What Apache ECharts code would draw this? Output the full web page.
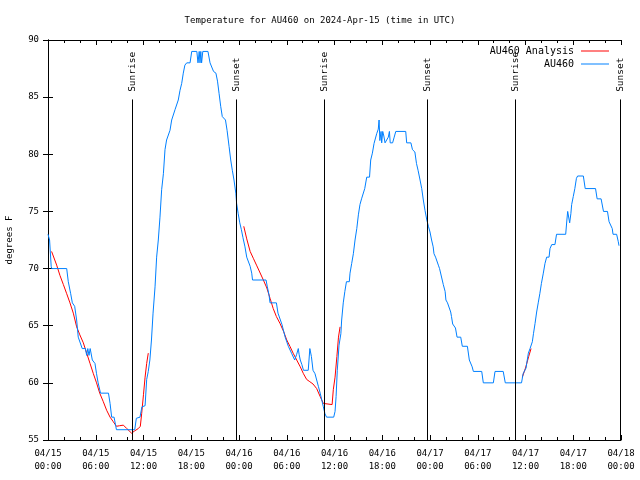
<!DOCTYPE html>
<html><head><meta charset="utf-8">
<script src="https://cdn.jsdelivr.net/npm/echarts@6/dist/echarts.min.js"></script>
<style>html,body{margin:0;padding:0;background:#fff}#c{width:640px;height:480px}</style>
</head><body><div id="c"></div>
<script>
// ---- data (hours since 04/15 00:00 UTC, degrees F) ----
const xTickLabels = ['04/15\n00:00','04/15\n06:00','04/15\n12:00','04/15\n18:00','04/16\n00:00','04/16\n06:00','04/16\n12:00','04/16\n18:00','04/17\n00:00','04/17\n06:00','04/17\n12:00','04/17\n18:00','04/18\n00:00'];
const yTicks = [55,60,65,70,75,80,85,90];

const obsHours = [0,0.2,0.4,0.46,2.35,2.55,2.85,3.06,3.35,3.6,3.8,4.0,4.3,4.7,4.86,5.0,5.15,5.3,5.45,5.57,5.9,6.1,6.3,6.6,7.6,7.8,8.0,8.3,8.6,10.9,11.1,11.56,11.8,12.2,12.4,12.6,12.8,13.0,13.2,13.45,13.65,13.86,14.07,14.28,14.5,14.7,14.9,15.1,15.33,15.54,15.75,15.96,16.15,16.37,16.59,16.8,17.0,17.2,17.43,17.85,18.06,18.7,18.85,19.0,19.1,19.2,19.3,19.45,20.1,20.36,20.8,21.1,21.3,21.5,21.7,21.9,22.3,22.5,22.75,22.96,23.16,23.37,23.6,23.7,23.9,24.1,24.3,24.5,24.75,24.97,25.2,25.4,25.6,25.7,27.4,27.56,27.77,27.9,28.7,28.9,29.1,29.4,29.6,29.8,30.0,30.2,30.4,30.6,30.8,31.0,31.25,31.45,31.55,31.7,31.9,32.1,32.7,32.9,33.1,33.3,33.55,33.76,33.97,34.2,34.4,34.6,34.8,35.0,35.9,36.07,36.2,36.35,36.57,36.8,36.9,37.1,37.3,37.5,37.86,37.95,38.16,38.37,38.58,38.8,39.0,39.2,39.4,39.6,39.8,40.05,40.4,40.55,40.76,40.97,41.2,41.3,41.5,41.6,41.7,41.85,41.93,42.06,42.2,42.35,42.6,42.76,42.9,43.0,43.3,43.5,43.7,44.95,45.07,45.6,45.8,46.1,46.3,46.5,46.75,46.96,47.16,47.37,47.6,47.8,48.0,48.2,48.34,48.4,48.5,48.7,48.9,49.05,49.2,49.4,49.67,49.9,50.0,50.2,50.4,50.6,50.7,50.85,51.0,51.2,51.4,51.86,52.06,52.7,52.8,52.94,53.1,53.3,53.45,54.5,54.7,55.96,56.17,57.2,57.46,59.5,59.7,60.07,60.15,60.36,60.57,60.86,61.0,61.2,61.4,61.6,61.8,62.0,62.24,62.45,62.66,62.96,63.08,63.3,63.7,63.9,65.05,65.2,65.3,65.4,65.55,65.7,65.8,66.0,66.2,66.4,66.55,67.27,67.5,68.8,69.0,69.5,69.8,70.3,70.5,70.9,71.0,71.45,71.66,71.75];
const obsTemps = [73,72.5,70.2,70,70,68.85,67.8,67,66.7,65.5,64,63.9,63,63,62.4,63,62.4,63,63,62,61.7,60.8,60,59.1,59.1,58.2,57,57,55.9,55.9,56.9,57,57.9,58,60.3,61,62,63.75,66.1,68.4,71,72.5,74.5,76.9,78.3,80.4,81.25,81.3,82.1,83,83.1,83.9,84,84.75,85.6,86.2,87.1,87.8,88,88,89,89,88,89,88,89,88,89,89,88,87.25,87.1,86.4,85.3,84.2,83.3,83,82.1,80.7,79.5,78.6,77.75,76.6,75.7,74.8,74,73.4,72.7,71.9,71,70.9,70.2,69.6,69,69,68.4,67.7,67,67,66.1,66,65.1,65,64,63.9,63.2,63.1,62.6,62.5,62,62.5,63,62.5,62,61.6,61.1,61.1,63,62.3,61.1,60.8,60.25,59.7,59.1,58.5,57.9,57.3,57,57,57.5,58.8,61.1,63.3,64.3,65.5,67,68,68.85,68.85,69.6,70.45,71.3,72.5,73.5,74.7,75.6,76.1,76.1,77,78,78,79.5,80.1,80.95,81,81.8,82.2,83,81.2,82,81,82,81.6,81,81,81.5,82,81,81,81.5,82,82,81,81,80.4,80.2,79.2,78.6,77.75,77,76,75.1,74.25,73.7,73.2,72.5,72.35,71.9,71.3,71,71,70.3,70,69.9,68.6,68,67.25,67,67,66.2,65.8,65.15,65.1,64.8,64,64,63.2,63.2,62.7,62,62,61.4,61,61,60,60,61,61,60,60,60.8,61.3,61.7,62.6,63,63.6,64.3,65.2,66.2,67,67.8,68.7,69.6,70.45,71,71,71.75,72.1,72.1,73,73,74.25,75,74.6,74,74.8,75.6,76.3,77,77.9,78.1,78.1,77,77,76.1,76.1,75,75,74.1,73.5,73,73,72.35,72];

const anaHours1 = [0.45,1.09,1.5,1.93,2.35,2.76,3.18,3.6,4.0,4.44,4.86,5.28,5.7,6.1,6.5,6.95,7.37,7.8,8.2,8.6,9.0,9.47,9.9,10.5,10.9,11.35,11.6,11.77,12.0,12.2,12.4,12.6];
const anaTemps1 = [71.5,70.3,69.4,68.6,67.8,67,66.1,64.9,64.2,63.5,62.6,61.7,60.8,60,59.1,58.35,57.6,57,56.6,56.2,56.25,56.3,56.0,55.6,55.8,56,56.2,57.3,59,60.5,61.7,62.6];
const anaHours2 = [24.6,24.97,25.4,25.8,26.2,26.6,27.06,27.5,27.9,28.3,28.7,29.15,29.6,30.0,30.4,30.8,31.25,31.7,32.1,32.5,32.9,33.3,33.76,34.2,34.6,34.8,35.7,35.85,36.07,36.3,36.5,36.7];
const anaTemps2 = [73.7,72.6,71.5,70.9,70.3,69.7,69,68.3,67.4,66.5,65.8,65.2,64.5,63.75,63.2,62.6,62,61.4,60.8,60.3,60.1,59.9,59.5,58.8,58.2,58.1,58.1,59.4,60.5,62.3,64,64.9];
const anaHours3 = [59.6,60.0,60.4,60.7];
const anaTemps3 = [60.5,61.3,62.3,63.0];

const sunHours = [10.6,23.7,34.7,47.7,58.7,71.9];
const sunLabels = ['Sunrise','Sunset','Sunrise','Sunset','Sunrise','Sunset'];

// ---- build ----
const FONT = 'DejaVu Sans Mono';
const zip = (a,b) => a.map((v,i)=>[v,b[i]]);
const obsData = zip(obsHours, obsTemps);
const anaData = [].concat(zip(anaHours1,anaTemps1), [[18,null]], zip(anaHours2,anaTemps2), [[48,null]], zip(anaHours3,anaTemps3));

const markData = [];
sunHours.forEach((h,i)=>{
  markData.push([{coord:[h,55]},{coord:[h,84.8]}]);
  markData.push([{coord:[h,85.2], lineStyle:{color:'rgba(0,0,0,0)', width:0},
    label:{show:true, position:'insideStart', distance:3, formatter:sunLabels[i], fontFamily:FONT, fontSize:9.5, color:'#000', opacity:1}},
    {coord:[h,89.9]}]);
});

const xBase = {type:'value', min:0, max:72, interval:6, splitLine:{show:false},
  axisLine:{show:true, lineStyle:{color:'#000', width:1}},
  axisTick:{show:true, inside:true, length:5, lineStyle:{color:'#000'}},
  minorTick:{show:true, splitNumber:3, length:3, lineStyle:{color:'#000'}}};
const yBase = {type:'value', min:55, max:90, interval:5, splitLine:{show:false},
  axisLine:{show:true, lineStyle:{color:'#000', width:1}},
  axisTick:{show:true, inside:true, length:5, lineStyle:{color:'#000'}}};

const chart = echarts.init(document.getElementById('c'));
chart.setOption({
  animation:false,
  backgroundColor:'#fff',
  title:{text:'Temperature for AU460 on 2024-Apr-15 (time in UTC)', left:'center', top:11,
    textStyle:{fontFamily:FONT, fontSize:9, fontWeight:'normal', color:'#000'}},
  grid:{left:48, right:19, top:40, bottom:40, outerBoundsMode:'none', containLabel:false},
  legend:[
    {data:['AU460 Analysis'], right:26, top:41, orient:'vertical', align:'right', icon:'rect', itemWidth:28, itemHeight:1, itemGap:4,
      textStyle:{fontFamily:FONT, fontSize:10, color:'#000', padding:[0,2,0,0]}},
    {data:['AU460'], right:26, top:54, orient:'vertical', align:'right', icon:'rect', itemWidth:28, itemHeight:1, itemGap:4,
      textStyle:{fontFamily:FONT, fontSize:10, color:'#000', padding:[0,2,0,0]}}
  ],
  xAxis:[
    Object.assign({}, xBase, {position:'bottom', axisLabel:{margin:7, fontFamily:FONT, fontSize:9, color:'#000', lineHeight:13,
      formatter:(v)=>xTickLabels[Math.round(v/6)]}}),
    Object.assign({}, xBase, {position:'top', axisLabel:{show:false}})
  ],
  yAxis:[
    Object.assign({}, yBase, {position:'left', name:'degrees F', nameLocation:'middle', nameGap:34, nameRotate:90,
      nameTextStyle:{fontFamily:FONT, fontSize:9, color:'#000'},
      axisLabel:{margin:9, fontFamily:FONT, fontSize:9, color:'#000', formatter:(v)=>yTicks.indexOf(v)>=0?String(v):''}}),
    Object.assign({}, yBase, {position:'right', axisLabel:{show:false}})
  ],
  series:[
    {name:'AU460 Analysis', type:'line', data:anaData, showSymbol:false, connectNulls:false,
      lineStyle:{color:'#ff0000', width:1}, itemStyle:{color:'#ff0000'}},
    {name:'AU460', type:'line', data:obsData, showSymbol:false,
      lineStyle:{color:'#0080ff', width:1}, itemStyle:{color:'#0080ff'},
      markLine:{silent:true, symbol:'none', animation:false,
        lineStyle:{color:'#000', width:1, type:'solid'},
        label:{show:false}, data:markData}}
  ]
});
</script></body></html>
